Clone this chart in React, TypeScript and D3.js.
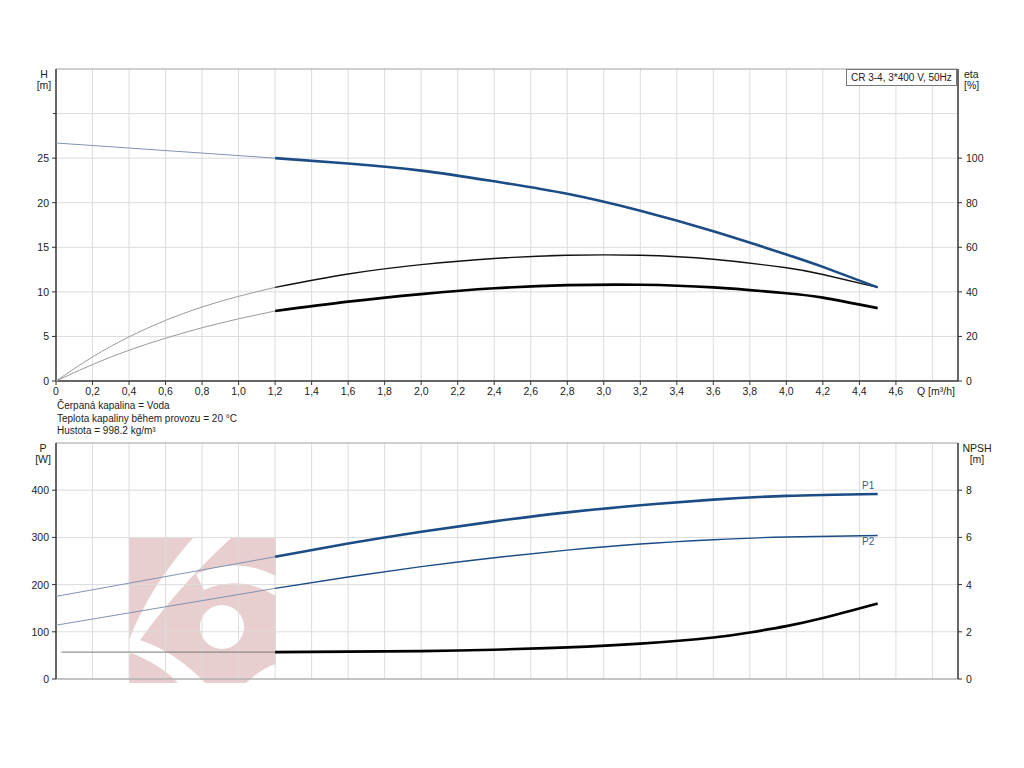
import React from "react";
import * as d3 from "d3";

// ---------- data ----------
const xTicks = [0, 0.2, 0.4, 0.6, 0.8, 1.0, 1.2, 1.4, 1.6, 1.8, 2.0, 2.2, 2.4, 2.6, 2.8, 3.0, 3.2, 3.4, 3.6, 3.8, 4.0, 4.2, 4.4, 4.6];
const hTicks = [0, 5, 10, 15, 20, 25];
const etaTicks = [0, 20, 40, 60, 80, 100];
const pTicks = [0, 100, 200, 300, 400];
const npshTicks = [0, 2, 4, 6, 8];

const qH = [0, 1.2, 1.6, 2.0, 2.4, 2.8, 3.2, 3.6, 4.0, 4.2, 4.5];
const hVals = [26.7, 25.0, 24.4, 23.6, 22.4, 21.0, 19.1, 16.8, 14.2, 12.8, 10.5];

const qEta = [0, 0.2, 0.4, 0.6, 0.8, 1.0, 1.2, 1.6, 2.0, 2.4, 2.8, 3.2, 3.6, 4.0, 4.2, 4.5];
const etaPump = [0, 10.8, 19.8, 27.2, 33.2, 38.0, 42.0, 48.0, 52.2, 55.0, 56.4, 56.4, 54.6, 50.8, 47.8, 42.0];
const etaTotal = [0, 7.4, 13.8, 19.2, 23.9, 27.9, 31.4, 35.6, 39.0, 41.6, 43.0, 43.2, 42.0, 39.4, 37.4, 32.7];

const qP = [0, 1.2, 1.6, 2.0, 2.4, 2.8, 3.2, 3.6, 4.0, 4.5];
const p1Vals = [175, 259, 287, 312, 334, 353, 368, 380, 388, 392];
const p2Vals = [114, 192, 216, 238, 257, 273, 286, 295, 301, 304];

const qN = [0.03, 1.2, 2.0, 2.4, 2.8, 3.2, 3.6, 3.8, 4.0, 4.2, 4.5];
const npshVals = [1.14, 1.14, 1.18, 1.24, 1.34, 1.5, 1.76, 1.97, 2.24, 2.58, 3.2];

const qSplit = 1.2;
const infoLines = ["Čerpaná kapalina = Voda", "Teplota kapaliny během provozu = 20 °C", "Hustota = 998.2 kg/m³"];
const legendText = "CR 3-4, 3*400 V, 50Hz";

// ---------- layout ----------
const W = 1024, H = 768;
const X0 = 56, X1 = 958;
const T0 = 69, T1 = 381;
const B0 = 443, B1 = 679;
const FONT = "'Liberation Sans', Arial, sans-serif";
const FS = 10;
const BLUE = "#1b4c86";
const BLUE_THIN = "#8193b0";
const GRAY_THIN = "#9a9a9a";
const GRID = "#dcdcdc";

const x = d3.scaleLinear().domain([0, 4.94]).range([X0, X1]);
const yH = d3.scaleLinear().domain([0, 35]).range([T1, T0]);
const yEta = d3.scaleLinear().domain([0, 140]).range([T1, T0]);
const yP = d3.scaleLinear().domain([0, 500]).range([B1, B0]);
const yN = d3.scaleLinear().domain([0, 10]).range([B1, B0]);

type Pt = [number, number];
const zip = (qs: number[], vs: number[]): Pt[] => qs.map((q, i) => [q, vs[i]]);

function split(pts: Pt[]) {
  const ext = pts.filter((p) => p[0] <= qSplit);
  const main = pts.filter((p) => p[0] >= qSplit);
  return { ext, main };
}

function Curve({ pts, y, color, thinColor, width }: { pts: Pt[]; y: d3.ScaleLinear<number, number>; color: string; thinColor: string; width: number }) {
  const gen = d3
    .line<Pt>()
    .x((d) => x(d[0]))
    .y((d) => y(d[1]))
    .curve(d3.curveNatural);
  const { ext, main } = split(pts);
  return (
    <g fill="none">
      <path d={gen(ext) || ""} stroke={thinColor} strokeWidth={1} />
      <path d={gen(main) || ""} stroke={color} strokeWidth={width} strokeLinecap="butt" />
    </g>
  );
}

const gridQs = d3.range(1, 25).map((i) => i * 0.2);
const fmt = (v: number) => (v === 0 ? "0" : v.toFixed(1).replace(".", ","));

function Watermark() {
  const bx = 129, by = 538, bw = 147, bh = 145;
  return (
    <g>
      <defs>
        <mask id="wm">
          <rect x={bx} y={by} width={bw} height={bh} fill="white" />
          <circle cx={222} cy={627} r={22} fill="black" />
          <path d="M193,538 L231,538 Q172,592 129,656 L129,640 Q150,586 193,538 Z" fill="black" />
          <path d="M196,574 Q238,556 276,576 L276,596 Q240,574 204,590 Z" fill="black" />
          <path d="M129,652 Q160,664 178,683 L205,683 Q176,652 140,640 Z" fill="black" />
          <path d="M246,683 Q262,668 276,664 L276,683 Z" fill="black" />
        </mask>
      </defs>
      <rect x={bx} y={by} width={bw} height={bh} fill="#e8cece" mask="url(#wm)" />
    </g>
  );
}

function Panel({ top, bottom, leftTicks, leftScale, rightTicks, rightScale, bottomDark }: any) {
  return (
    <g>
      {gridQs.map((q) => (
        <line key={q} x1={x(q)} x2={x(q)} y1={top} y2={bottom} stroke={GRID} strokeWidth={1} />
      ))}
      {leftTicks.slice(1).map((t: number) => (
        <line key={t} x1={X0} x2={X1} y1={leftScale(t)} y2={leftScale(t)} stroke={GRID} strokeWidth={1} />
      ))}
      <line x1={X0} x2={X1} y1={top} y2={top} stroke="#a0a0a0" strokeWidth={1} />
      <line x1={X0} x2={X1} y1={bottom} y2={bottom} stroke={bottomDark ? "#333" : "#b0b0b0"} strokeWidth={1.5} />
      <line x1={X0} x2={X0} y1={top} y2={bottom} stroke="#333" strokeWidth={1.5} />
      <line x1={X1} x2={X1} y1={top} y2={bottom} stroke="#333" strokeWidth={1.5} />
      {leftTicks.map((t: number) => (
        <g key={"l" + t}>
          <line x1={X0 - 4} x2={X0} y1={leftScale(t)} y2={leftScale(t)} stroke="#333" />
          <text x={X0 - 7} y={leftScale(t) + 4} textAnchor="end" fontSize={FS + 0.5} fill="#222">{t}</text>
        </g>
      ))}
      {rightTicks.map((t: number) => (
        <g key={"r" + t}>
          <line x1={X1} x2={X1 + 4} y1={rightScale(t)} y2={rightScale(t)} stroke="#333" />
          <text x={X1 + 8} y={rightScale(t) + 4} textAnchor="start" fontSize={FS + 0.5} fill="#222">{t}</text>
        </g>
      ))}
    </g>
  );
}

export default function App() {
  return (
    <svg width={W} height={H} style={{ display: "block", position: "absolute", left: 0, top: 0 }} fontFamily={FONT}>
      <rect width={W} height={H} fill="white" />
      <Watermark />
      <Panel top={T0} bottom={T1} leftTicks={hTicks.concat([30])} leftScale={yH} rightTicks={etaTicks} rightScale={yEta} bottomDark={true} />
      <Panel top={B0} bottom={B1} leftTicks={pTicks} leftScale={yP} rightTicks={npshTicks} rightScale={yN} bottomDark={false} />
      {/* hide label for 30 */}
      <rect x={20} y={yH(30) - 8} width={33} height={14} fill="white" />

      {/* x ticks */}
      {xTicks.map((q) => (
        <g key={q}>
          <line x1={x(q)} x2={x(q)} y1={T1} y2={T1 + 4} stroke="#333" />
          <text x={x(q)} y={T1 + 14} textAnchor="middle" fontSize={FS + 0.5} fill="#222">{fmt(q)}</text>
        </g>
      ))}
      <text x={917} y={T1 + 14} fontSize={FS + 0.5} fill="#222">Q [m³/h]</text>

      {/* axis titles */}
      <text x={44} y={78} textAnchor="middle" fontSize={FS + 0.5} fill="#222">H</text>
      <text x={44} y={89} textAnchor="middle" fontSize={FS + 0.5} fill="#222">[m]</text>
      <text x={964} y={78} fontSize={FS + 0.5} fill="#222">eta</text>
      <text x={964} y={89} fontSize={FS + 0.5} fill="#222">[%]</text>
      <text x={43} y={452} textAnchor="middle" fontSize={FS + 0.5} fill="#222">P</text>
      <text x={43} y={463} textAnchor="middle" fontSize={FS + 0.5} fill="#222">[W]</text>
      <text x={977} y={452} textAnchor="middle" fontSize={FS + 0.5} fill="#222">NPSH</text>
      <text x={977} y={463} textAnchor="middle" fontSize={FS + 0.5} fill="#222">[m]</text>

      {/* legend */}
      <rect x={846.5} y={69.5} width={110} height={16} fill="white" stroke="#777" />
      <text x={851} y={81} fontSize={FS} fill="#222">{legendText}</text>

      {/* info */}
      {infoLines.map((s, i) => (
        <text key={i} x={57} y={409 + i * 12.5} fontSize={FS} fill="#222">{s}</text>
      ))}

      {/* curves top */}
      <Curve pts={zip(qEta, etaPump)} y={yEta} color="#111" thinColor={GRAY_THIN} width={1.4} />
      <Curve pts={zip(qEta, etaTotal)} y={yEta} color="#000" thinColor={GRAY_THIN} width={2.6} />
      <Curve pts={zip(qH, hVals)} y={yH} color={BLUE} thinColor={BLUE_THIN} width={2.6} />

      {/* curves bottom */}
      <Curve pts={zip(qP, p1Vals)} y={yP} color={BLUE} thinColor={BLUE_THIN} width={2.6} />
      <Curve pts={zip(qP, p2Vals)} y={yP} color={BLUE} thinColor={BLUE_THIN} width={1.4} />
      <Curve pts={zip(qN, npshVals)} y={yN} color="#000" thinColor="#777" width={2.6} />
      <text x={862} y={489} fontSize={FS} fill="#3a5a85">P1</text>
      <text x={862} y={545} fontSize={FS} fill="#3a5a85">P2</text>
    </svg>
  );
}
